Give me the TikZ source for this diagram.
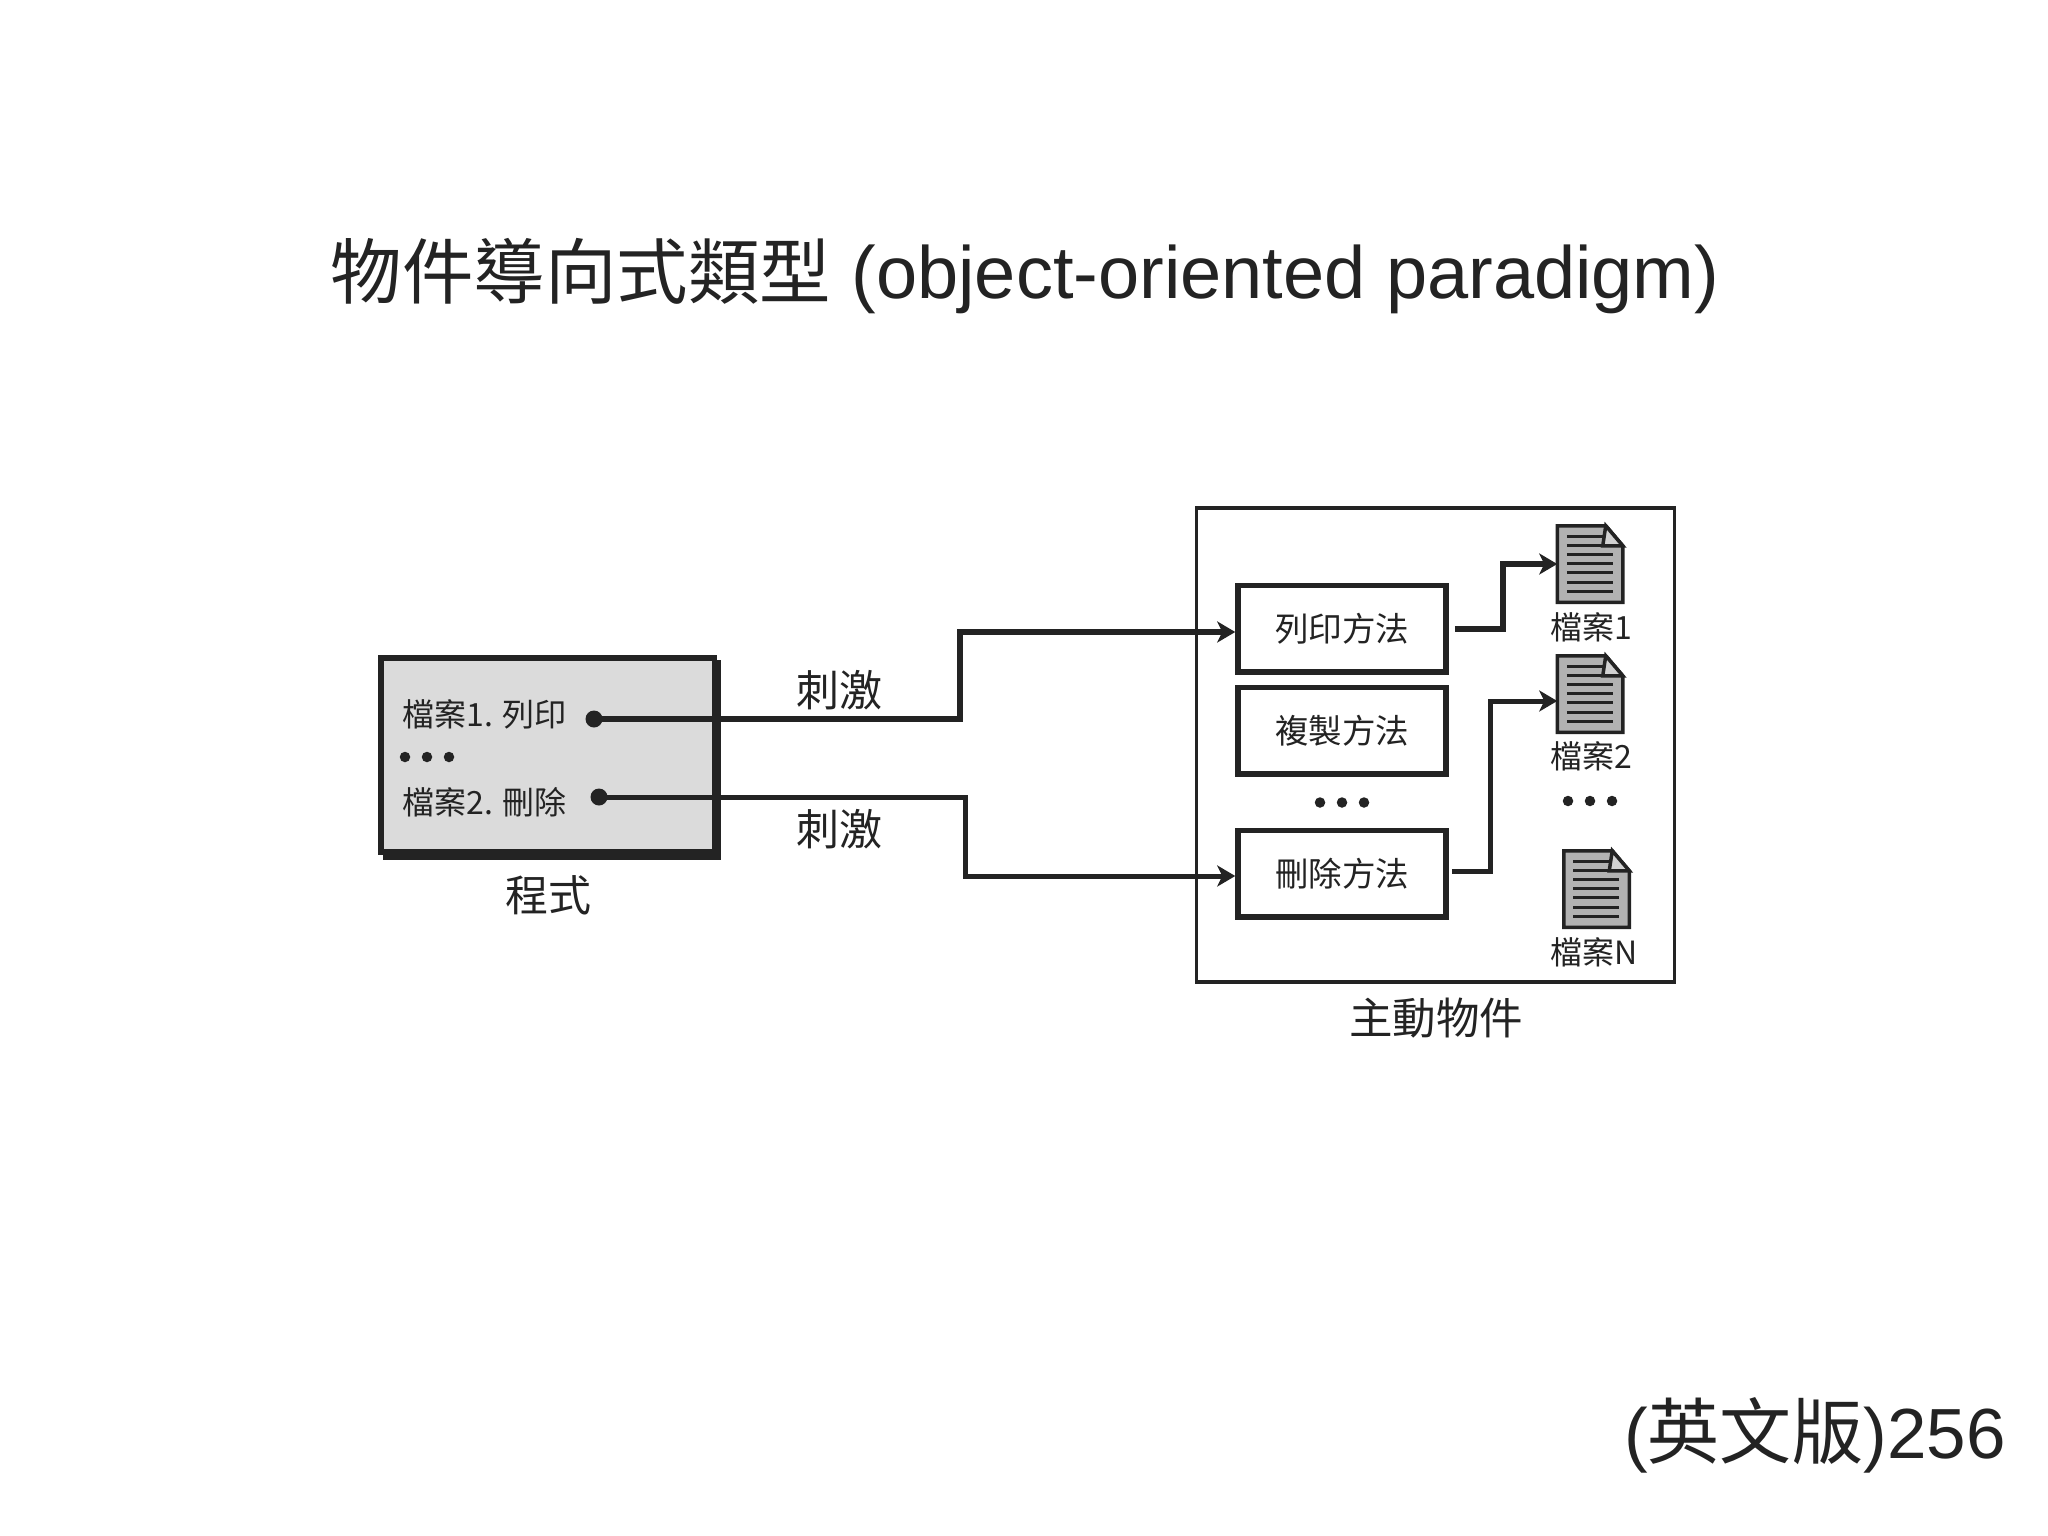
\documentclass[tikz,border=0pt]{standalone}
\usepackage{fontspec}
\setmainfont{Liberation Sans}
\newfontfamily\cjk{Noto Sans CJK TC}
\usetikzlibrary{arrows.meta}
\definecolor{ink}{HTML}{232323}

\begin{document}
\begin{tikzpicture}[x=1pt, y=-1pt]
\tikzstyle{title} = [inner sep=0, text=ink, font=\fontsize{74}{74}\selectfont]
\tikzstyle{caption} = [inner sep=0, text=ink, font=\cjk\fontsize{43}{43}\selectfont]
\tikzstyle{entry} = [inner sep=0, text=ink, font=\cjk\fontsize{32}{32}\selectfont]
\tikzstyle{progbox} = [rectangle, minimum width=333.5pt, minimum height=194pt, draw=ink, line width=5.5pt, fill=black!14]
\tikzstyle{outerbox} = [rectangle, minimum width=478pt, minimum height=474pt, draw=ink, line width=3.5pt]
\tikzstyle{method} = [rectangle, minimum width=208pt, minimum height=86.5pt, draw=ink, line width=5.5pt, fill=white, text=ink, font=\cjk\fontsize{33.5}{33.5}\selectfont]
\tikzstyle{docbox} = [rectangle, minimum width=65.5pt, minimum height=76.5pt, inner sep=0, outer sep=0]
\tikzstyle{bullet} = [circle, fill=ink, inner sep=0, minimum size=17pt]
\tikzstyle{dot} = [circle, fill=ink, inner sep=0, minimum size=10.5pt]
\tikzstyle{arrow} = [draw=ink, line width=5.5pt, ->, >={Stealth[length=18pt, width=21pt, inset=5pt]}]
\useasboundingbox (0,0) rectangle (2048,1536);

% Nodes
\node (heading) [title] at (1025,276) {{\cjk\fontsize{71.5}{74}\selectfont 物件導向式類型} (object-oriented paradigm)};
\node (page) [title, anchor=east, font=\fontsize{71}{71}\selectfont] at (2006,1435) {({\cjk\fontsize{72}{72}\selectfont 英文版})256};

\fill [ink] (383,660) rectangle (721,860);
\node (program) [progbox] at (547.75,755) {};
\node (entry1) [entry] at (484.5,714) {檔案1. 列印};
\node (entry2) [entry] at (484.5,802) {檔案2. 刪除};
\node (bullet1) [bullet] at (594,719) {};
\node (bullet2) [bullet] at (599,797) {};
\foreach \x in {405,427,449}
  \node (progdot\x) [dot] at (\x,757) {};
\node (progname) [caption] at (548,895) {程式};
\node (stim1) [caption] at (839,690) {刺激};
\node (stim2) [caption] at (839,829) {刺激};

\node (active) [outerbox] at (1435.5,745) {};
\node (activename) [caption, font=\cjk\fontsize{43.5}{43.5}\selectfont] at (1436,1018) {主動物件};
\node (print) [method] at (1342,628.5) {列印方法};
\node (copy) [method] at (1342,730.5) {複製方法};
\node (delete) [method] at (1342,873.5) {刪除方法};
\foreach \x in {1320,1342,1364}
  \node (methdot\x) [dot] at (\x,802.5) {};
\foreach \x in {1568,1590,1612}
  \node (filedot\x) [dot] at (\x,801) {};

\node (file1) [docbox] at (1590,564) {};
\node (file2) [docbox] at (1590,694) {};
\node (fileN) [docbox] at (1596.5,889) {};
\foreach \f in {file1,file2,fileN} {
  \draw [draw=ink, line width=3.5pt, fill=black!30] (\f.north west) -- ([xshift=-17pt]\f.north east) -- ([yshift=-20pt]\f.north east) -- (\f.south east) -- (\f.south west) -- cycle;
  \draw [draw=ink, line width=3.5pt, fill=black!18] ([xshift=-17pt]\f.north east) -- ([xshift=-20pt, yshift=-20pt]\f.north east) -- ([yshift=-20pt]\f.north east) -- cycle;
  \foreach \y/\w in {10.5/36,19.9/36,28.9/46,37.8/46,47/46,56.3/46,65.5/46}
    \draw [draw=ink, line width=3pt] ([xshift=9.5pt, yshift=-\y pt]\f.north west) -- ++(\w,0);
}
\node (label1) [entry, anchor=west] at (1550,627.5) {檔案1};
\node (label2) [entry, anchor=west] at (1550,756) {檔案2};
\node (labelN) [entry, anchor=west] at (1550,952.5) {檔案N};

% Arrows
\coordinate (bend1) at (960,632);
\coordinate (bend2) at (965,876);
\coordinate (out1) at (1503,564);
\coordinate (out2) at (1490,701);
\draw [arrow] (bullet1.center) -| (bend1) -- (print.west |- bend1);
\draw [arrow, line width=5pt] (bullet2.center) -| (bend2) -- (delete.west |- bend2);
\draw [arrow, line width=6pt] ([xshift=6pt]print.east) -| (out1) -- (file1.west);
\draw [arrow, line width=5pt] ([xshift=3pt, yshift=2pt]delete.east) -| (out2) -- (file2.west |- out2);

\end{tikzpicture}
\end{document}
